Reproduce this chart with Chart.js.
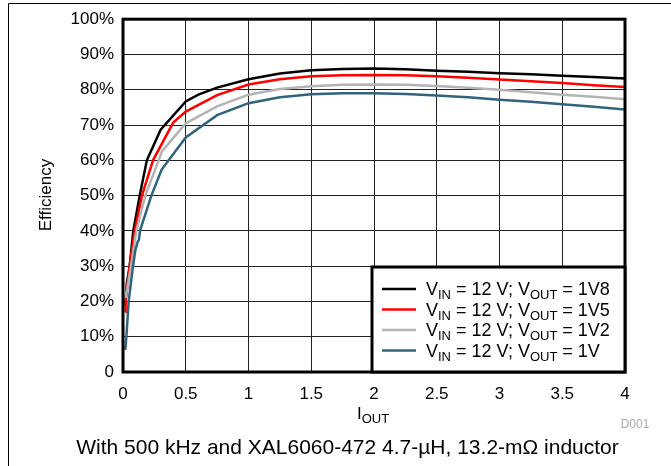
<!DOCTYPE html>
<html>
<head>
<meta charset="utf-8">
<script src="https://cdn.jsdelivr.net/npm/chart.js@4/dist/chart.umd.min.js"></script>
<style>
  html, body { margin: 0; padding: 0; background: #fff; }
  #wrap { position: relative; width: 671px; height: 466px; }
  canvas { display: block; }
</style>
</head>
<body>
<div id="wrap"><canvas id="c" width="671" height="466"></canvas></div>
<script>
// ---- Data ----
const xTicks = [0, 0.5, 1, 1.5, 2, 2.5, 3, 3.5, 4];
const yTicks = [0, 10, 20, 30, 40, 50, 60, 70, 80, 90, 100];

const x1V8 = [0.018, 0.03, 0.053, 0.066, 0.082, 0.133, 0.19, 0.3, 0.5, 0.6, 0.75, 1.0, 1.25, 1.5, 1.75, 2.0, 2.25, 2.5, 2.75, 3.0, 3.25, 3.5, 3.75, 4.0];
const y1V8 = [19, 25, 30, 34.5, 40, 50, 60, 68.7, 76.7, 78.6, 80.6, 83.0, 84.6, 85.5, 85.9, 86.0, 85.8, 85.4, 85.1, 84.7, 84.4, 84.0, 83.6, 83.2];

const x1V5 = [0.018, 0.021, 0.053, 0.093, 0.151, 0.239, 0.4, 0.5, 0.75, 1.0, 1.25, 1.5, 1.75, 2.0, 2.25, 2.5, 2.75, 3.0, 3.25, 3.5, 3.75, 4.0];
const y1V5 = [17, 20, 30, 40, 50, 60, 70.7, 73.8, 78.5, 81.5, 83.0, 83.8, 84.1, 84.2, 84.1, 83.8, 83.4, 82.9, 82.4, 81.9, 81.3, 80.8];

const x1V2 = [0.02, 0.064, 0.106, 0.178, 0.284, 0.31, 0.5, 0.75, 1.0, 1.25, 1.5, 1.75, 2.0, 2.25, 2.5, 2.75, 3.0, 3.25, 3.5, 3.75, 4.0];
const y1V2 = [21, 30, 40, 50, 60, 62.5, 70.5, 75.3, 78.6, 80.2, 81.0, 81.4, 81.5, 81.4, 81.1, 80.6, 80.0, 79.3, 78.6, 78.0, 77.3];

const x1V = [0.018, 0.027, 0.045, 0.08, 0.098, 0.118, 0.127, 0.135, 0.226, 0.308, 0.5, 0.75, 1.0, 1.25, 1.5, 1.75, 2.0, 2.25, 2.5, 2.75, 3.0, 3.25, 3.5, 3.75, 4.0];
const y1V = [6.3, 10, 20, 30, 34.5, 37, 37.5, 40, 50, 57.4, 66.5, 72.8, 76.2, 77.9, 78.7, 79.0, 79.0, 78.8, 78.4, 77.9, 77.2, 76.6, 75.9, 75.2, 74.4];

const seriesLabels = ['1V8', '1V5', '1V2', '1V'];
const seriesColors = ['#000000', '#ff0000', '#b4b4b4', '#30637d'];
const captionText = 'With 500 kHz and XAL6060-472 4.7-\u00b5H, 13.2-m\u03a9 inductor';

const FONT = '"Liberation Sans", Arial, sans-serif';

function pts(xs, ys) { return xs.map((x, i) => ({ x: x, y: ys[i] })); }

function drawRich(ctx, parts, x, y, size, subSize, align) {
  // parts: [text, isSub]
  let total = 0;
  const widths = parts.map(p => {
    ctx.font = (p[1] ? subSize : size) + 'px ' + FONT;
    const w = ctx.measureText(p[0]).width;
    total += w;
    return w;
  });
  let cx = align === 'center' ? x - total / 2 : x;
  ctx.textAlign = 'left';
  ctx.textBaseline = 'alphabetic';
  parts.forEach((p, i) => {
    ctx.font = (p[1] ? subSize : size) + 'px ' + FONT;
    ctx.fillText(p[0], cx, p[1] ? y + 4 : y);
    cx += widths[i];
  });
}

const decor = {
  id: 'decor',
  afterDatasetsDraw(chart) {
    const ctx = chart.ctx;
    const a = chart.chartArea;
    ctx.save();
    // plot border
    ctx.strokeStyle = '#000';
    ctx.lineWidth = 3;
    ctx.strokeRect(a.left, a.top, a.right - a.left, a.bottom - a.top);

    // legend box
    const lx = 372, ly = 267, lw = a.right - 372, lh = a.bottom - 267;
    ctx.fillStyle = '#fff';
    ctx.fillRect(lx, ly, lw, lh);
    ctx.lineWidth = 3;
    ctx.strokeRect(lx, ly, lw, lh);
    const rows = [289, 309.5, 330, 350.5];
    seriesLabels.forEach((lab, i) => {
      ctx.strokeStyle = seriesColors[i];
      ctx.lineWidth = 2.5;
      ctx.beginPath();
      ctx.moveTo(382, rows[i]);
      ctx.lineTo(416, rows[i]);
      ctx.stroke();
      ctx.fillStyle = '#000';
      drawRich(ctx, [['V', false], ['IN', true], [' = 12 V; V', false], ['OUT', true], [' = ' + lab, false]],
        426, rows[i] + 6, 18, 13, 'left');
    });
    ctx.restore();
  },
  afterDraw(chart) {
    const ctx = chart.ctx;
    ctx.save();
    // outer frame (left and top)
    ctx.strokeStyle = '#000';
    ctx.lineWidth = 1;
    ctx.beginPath();
    ctx.moveTo(8.5, 466);
    ctx.lineTo(8.5, 3.5);
    ctx.lineTo(671, 3.5);
    ctx.stroke();

    // y title
    ctx.fillStyle = '#000';
    ctx.save();
    ctx.translate(51, 195);
    ctx.rotate(-Math.PI / 2);
    ctx.font = '17px ' + FONT;
    ctx.textAlign = 'center';
    ctx.textBaseline = 'alphabetic';
    ctx.fillText('Efficiency', 0, 0);
    ctx.restore();

    // x title
    drawRich(ctx, [['I', false], ['OUT', true]], 373, 419, 17, 13, 'center');

    // D001
    ctx.fillStyle = '#aaaaaa';
    ctx.font = '12px ' + FONT;
    ctx.textAlign = 'center';
    ctx.textBaseline = 'alphabetic';
    ctx.fillText('D001', 635, 428);

    // caption
    ctx.fillStyle = '#000';
    ctx.font = '21px ' + FONT;
    ctx.textAlign = 'center';
    ctx.fillText(captionText, 347.5, 454);
    ctx.restore();
  }
};

const datasets = [
  { label: 'VIN = 12 V; VOUT = 1V8', data: pts(x1V8, y1V8), borderColor: seriesColors[0], order: 3 },
  { label: 'VIN = 12 V; VOUT = 1V5', data: pts(x1V5, y1V5), borderColor: seriesColors[1], order: 2 },
  { label: 'VIN = 12 V; VOUT = 1V2', data: pts(x1V2, y1V2), borderColor: seriesColors[2], order: 1 },
  { label: 'VIN = 12 V; VOUT = 1V', data: pts(x1V, y1V), borderColor: seriesColors[3], order: 0 }
].map(d => Object.assign(d, { borderWidth: 2.5, pointRadius: 0, tension: 0, fill: false }));

new Chart(document.getElementById('c'), {
  type: 'line',
  data: { datasets: datasets },
  plugins: [decor],
  options: {
    responsive: false,
    animation: false,
    devicePixelRatio: 1,
    layout: { padding: { top: 18, right: 46, left: 0, bottom: 0 } },
    plugins: { legend: { display: false }, tooltip: { enabled: false } },
    scales: {
      x: {
        type: 'linear', min: 0, max: 4,
        afterBuildTicks: s => { s.ticks = xTicks.map(v => ({ value: v })); },
        afterFit: s => { s.height = 94; },
        ticks: { color: '#000', font: { family: FONT, size: 17 }, padding: 12, maxRotation: 0,
                 callback: v => String(v) },
        grid: { color: '#222', lineWidth: 1, drawTicks: false },
        border: { display: false }
      },
      y: {
        type: 'linear', min: 0, max: 100,
        afterBuildTicks: s => { s.ticks = yTicks.map(v => ({ value: v })); },
        afterFit: s => { s.width = 123; },
        ticks: { color: '#000', font: { family: FONT, size: 17 }, padding: 9,
                 callback: v => v === 0 ? '0' : v + '%' },
        grid: { color: '#222', lineWidth: 1, drawTicks: false },
        border: { display: false }
      }
    }
  }
});
</script>
</body>
</html>
